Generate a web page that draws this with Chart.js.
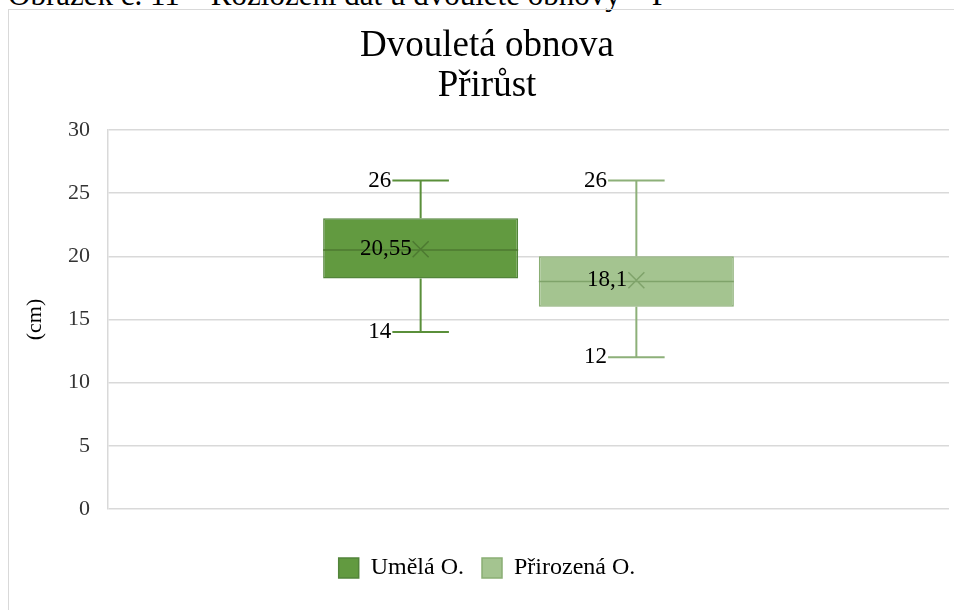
<!DOCTYPE html>
<html>
<head>
<meta charset="utf-8">
<script src="https://cdn.jsdelivr.net/npm/chart.js@4.4.1/dist/chart.umd.min.js"></script>
<style>
  html, body { margin: 0; padding: 0; background: #fff; overflow: hidden; width: 954px; height: 610px; }
  #caption { position: absolute; left: 8px; top: -21px; font: 31px/31px 'Liberation Serif', 'Times New Roman', serif; color: #000; white-space: nowrap; }
  #frame { position: absolute; left: 8px; top: 9px; width: 980px; height: 640px; border: 1.5px solid #d9d9d9; box-sizing: border-box; }
  #wrap { position: absolute; left: 10px; top: 11px; width: 954px; height: 620px; }
</style>
</head>
<body>
<div id="caption">Obrázek č. 11 – Rozložení dat u dvouleté obnovy – P</div>
<div id="frame"></div>
<div id="wrap"><canvas id="boxChart"></canvas></div>
<script>
// box plot values
var categories = ['Umělá O.', 'Přirozená O.'];
var minVals = [14, 12];
var q1Vals = [18.25, 16];
var medianVals = [20.5, 18];
var q3Vals = [23, 20];
var maxVals = [26, 26];
var meanVals = [20.55, 18.1];
var yTicks = [0, 5, 10, 15, 20, 25, 30];

var fills = ['#629a40', '#a4c490'];
var borders = ['#52843a', '#8aae74'];
var whiskers = ['#5a8f3a', '#8db079'];
var marks = ['#4d7a31', '#7fa36a'];
var serif = "'Liberation Serif', 'Times New Roman', serif";

// whiskers, median, mean and labels drawn over the floating bars
var boxParts = {
    id: 'boxParts',
    afterDatasetsDraw: function (chart) {
        var c = chart.ctx;
        var y = chart.scales.y;
        c.save();
        categories.forEach(function (name, i) {
            var bar = chart.getDatasetMeta(i).data[0];
            var x = bar.x, w = bar.width;
            var left = x - w / 2, right = x + w / 2;
            var cap = w * 0.29;
            var yMin = y.getPixelForValue(minVals[i]);
            var yQ1 = y.getPixelForValue(q1Vals[i]);
            var yMed = y.getPixelForValue(medianVals[i]);
            var yQ3 = y.getPixelForValue(q3Vals[i]);
            var yMax = y.getPixelForValue(maxVals[i]);
            var yMean = y.getPixelForValue(meanVals[i]);

            c.strokeStyle = whiskers[i];
            c.lineWidth = 2;
            c.beginPath();
            c.moveTo(x, yMax); c.lineTo(x, yQ3);
            c.moveTo(x, yQ1); c.lineTo(x, yMin);
            c.moveTo(x - cap / 2, yMax); c.lineTo(x + cap / 2, yMax);
            c.moveTo(x - cap / 2, yMin); c.lineTo(x + cap / 2, yMin);
            c.stroke();

            c.strokeStyle = marks[i];
            c.lineWidth = 1.5;
            c.beginPath();
            c.moveTo(left, yMed); c.lineTo(right, yMed);
            c.moveTo(x - 8, yMean - 8); c.lineTo(x + 8, yMean + 8);
            c.moveTo(x - 8, yMean + 8); c.lineTo(x + 8, yMean - 8);
            c.stroke();

            c.fillStyle = '#000';
            c.font = '23px ' + serif;
            c.textAlign = 'right';
            c.textBaseline = 'middle';
            c.fillText(String(maxVals[i]), x - cap / 2 - 1, yMax);
            c.fillText(String(minVals[i]), x - cap / 2 - 1, yMin);
            c.fillText(String(meanVals[i]).replace('.', ','), x - 9, yMean);
        });
        c.restore();
    }
};

var ctx = document.getElementById('boxChart').getContext('2d');
var boxChart = new Chart(ctx, {
    type: 'bar',
    data: {
        labels: [''],
        datasets: categories.map(function (name, i) {
            return {
                label: name,
                data: [[q1Vals[i], q3Vals[i]]],
                backgroundColor: fills[i],
                borderColor: borders[i],
                borderWidth: 1.5,
                borderSkipped: false,
                categoryPercentage: 0.513,
                barPercentage: 0.904
            };
        })
    },
    options: {
        responsive: true,
        maintainAspectRatio: false,
        animation: false,
        layout: { padding: { left: 0, right: 0, top: 0, bottom: 41 } },
        plugins: {
            title: {
                display: true,
                text: ['Dvouletá obnova', 'Přirůst'],
                color: '#000',
                font: { family: serif, size: 37, weight: 'normal', lineHeight: 1.08 },
                padding: { top: 15, bottom: 24 }
            },
            legend: {
                position: 'bottom',
                labels: {
                    color: '#000',
                    font: { family: serif, size: 24 },
                    boxWidth: 20,
                    boxHeight: 20,
                    padding: 18
                }
            },
            tooltip: { enabled: false }
        },
        scales: {
            x: {
                ticks: { display: false },
                grid: { display: false },
                border: { display: false },
                afterFit: function (scale) { scale.height = 29; }
            },
            y: {
                min: 0,
                max: 30,
                afterBuildTicks: function (scale) {
                    scale.ticks = yTicks.map(function (v) { return { value: v }; });
                },
                ticks: { color: '#333', font: { family: serif, size: 22 }, padding: 18 },
                grid: { color: '#d9d9d9', lineWidth: 1.5, drawTicks: false },
                border: { display: true, color: '#d9d9d9', width: 1.5 },
                title: {
                    display: true,
                    text: '(cm)',
                    color: '#000',
                    font: { family: serif, size: 22 },
                    padding: { top: 12, bottom: 0 }
                },
                afterFit: function (scale) { scale.width = 98; }
            },
            // empty right-hand strip so the plot ends before the frame edge
            yRight: {
                position: 'right',
                display: true,
                ticks: { display: false },
                grid: { display: false },
                border: { display: false },
                afterFit: function (scale) { scale.width = 15; }
            }
        }
    },
    plugins: [boxParts]
});
</script>
</body>
</html>
